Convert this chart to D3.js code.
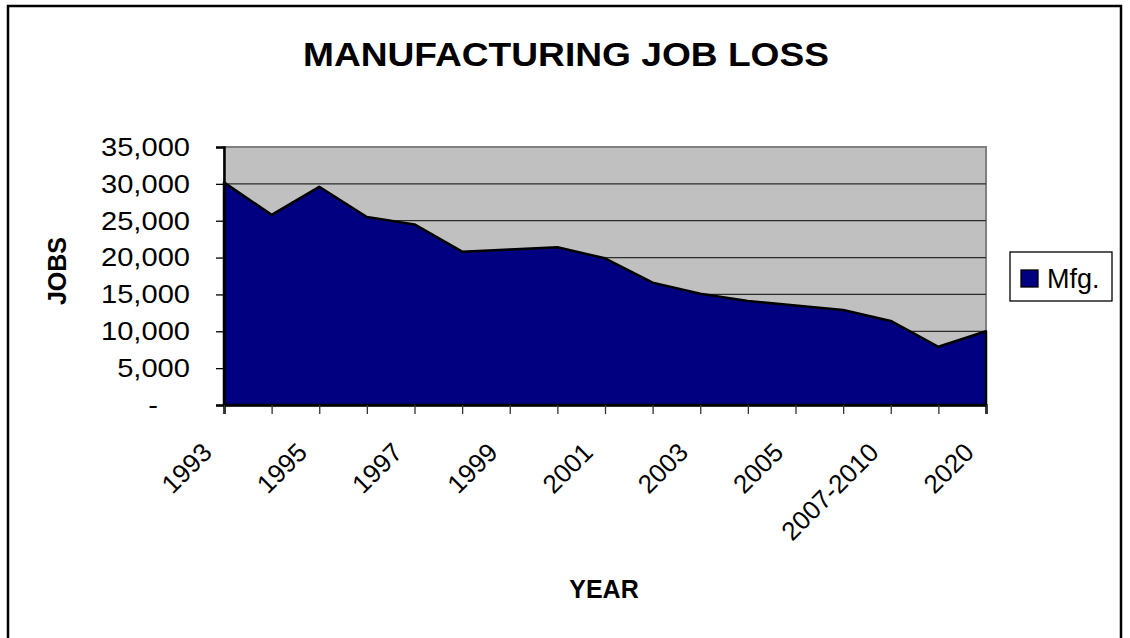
<!DOCTYPE html>
<html lang="en">
<head>
  <meta charset="UTF-8">
  <title>Manufacturing Job Loss</title>
  <script src="https://d3js.org/d3.v7.min.js"></script>
  <style>
    body { margin: 0; padding: 0; background: #fff; }
    svg text { font-family: "Liberation Sans", Arial, sans-serif; fill: #000; }
  </style>
</head>
<body>
  <div id="chart"></div>
  <script>
    const categories = ["1993", "1994", "1995", "1996", "1997", "1998", "1999", "2000", "2001",
      "2002", "2003", "2004", "2005", "2006", "2007-2010", "2011-2019", "2020"];
    const jobs = [30200, 25800, 29600, 25500, 24500, 20800, 21100, 21400, 19900,
      16600, 15100, 14100, 13500, 12900, 11400, 7900, 10000];
    const yTicks = [0, 5000, 10000, 15000, 20000, 25000, 30000, 35000];
    const seriesName = "Mfg.";

    const W = 1130, H = 638;
    const plot = { left: 224, right: 986, top: 147, bottom: 405 };
    const stretch = 1.12; // text in the source is a little wide

    const svg = d3.select("#chart").append("svg")
      .attr("width", W).attr("height", H);

    // outer chart border
    svg.append("rect")
      .attr("x", 8).attr("y", 6).attr("width", 1113).attr("height", 660)
      .attr("fill", "#fff").attr("stroke", "#000").attr("stroke-width", 2.5);

    const x = d3.scalePoint().domain(categories).range([plot.left, plot.right]);
    const y = d3.scaleLinear().domain([0, 35000]).range([plot.bottom, plot.top]);

    // plot background
    svg.append("rect")
      .attr("x", plot.left).attr("y", plot.top)
      .attr("width", plot.right - plot.left).attr("height", plot.bottom - plot.top)
      .attr("fill", "#c0c0c0").attr("stroke", "#808080").attr("stroke-width", 2);

    // gridlines
    svg.append("g").selectAll("line")
      .data(yTicks.filter(d => d > 0 && d < 35000))
      .join("line")
      .attr("x1", plot.left).attr("x2", plot.right)
      .attr("y1", d => y(d)).attr("y2", d => y(d))
      .attr("stroke", "#2b2b2b").attr("stroke-width", 1.3);

    // area
    const area = d3.area()
      .x((d, i) => x(categories[i]))
      .y0(y(0))
      .y1(d => y(d));
    svg.append("path")
      .datum(jobs)
      .attr("d", area)
      .attr("fill", "#000080")
      .attr("stroke", "#000")
      .attr("stroke-width", 2.5)
      .attr("stroke-linejoin", "round");

    // y axis
    const yAxis = svg.append("g")
      .attr("transform", `translate(${plot.left},0)`)
      .call(d3.axisLeft(y).tickValues(yTicks).tickSize(8).tickPadding(0)
        .tickFormat(d => d === 0 ? "-" : d3.format(",")(d)));
    yAxis.select(".domain").attr("stroke", "#000").attr("stroke-width", 2.5);
    yAxis.selectAll(".tick line").attr("stroke", "#000").attr("stroke-width", 1.3);
    yAxis.selectAll(".tick text")
      .attr("x", d => (d === 0 ? -66 : -34) / stretch)
      .attr("transform", `scale(${stretch},1)`)
      .attr("font-size", 26)
      .attr("font-family", "Liberation Sans, Arial, sans-serif");

    // x axis
    const xAxis = svg.append("g")
      .attr("transform", `translate(0,${plot.bottom})`)
      .call(d3.axisBottom(x).tickSize(9).tickFormat((d, i) => i % 2 === 0 ? d : ""));
    xAxis.select(".domain").attr("stroke", "#000").attr("stroke-width", 2.5);
    xAxis.selectAll(".tick line").attr("stroke", "#333").attr("stroke-width", 1.3);
    xAxis.selectAll(".tick text")
      .attr("font-size", 26)
      .attr("font-family", "Liberation Sans, Arial, sans-serif")
      .attr("text-anchor", "end")
      .attr("y", 0).attr("dy", 0)
      .attr("transform", "translate(-11,49) rotate(-45)");

    // title
    svg.append("text")
      .attr("x", 566).attr("y", 66)
      .attr("text-anchor", "middle")
      .attr("font-size", 33).attr("font-weight", "bold")
      .attr("textLength", 526).attr("lengthAdjust", "spacingAndGlyphs")
      .text("MANUFACTURING JOB LOSS");

    // axis titles
    svg.append("text")
      .attr("transform", "translate(66,271) rotate(-90)")
      .attr("text-anchor", "middle")
      .attr("font-size", 25).attr("font-weight", "bold")
      .text("JOBS");
    svg.append("text")
      .attr("x", 604).attr("y", 598)
      .attr("text-anchor", "middle")
      .attr("font-size", 25).attr("font-weight", "bold")
      .text("YEAR");

    // legend
    const lg = svg.append("g").attr("transform", "translate(1010,252)");
    lg.append("rect").attr("width", 102).attr("height", 49)
      .attr("fill", "#fff").attr("stroke", "#000").attr("stroke-width", 1.3);
    lg.append("rect").attr("x", 11).attr("y", 18).attr("width", 17).attr("height", 17)
      .attr("fill", "#000080").attr("stroke", "#000").attr("stroke-width", 1.3);
    lg.append("text").attr("x", 37).attr("y", 36)
      .attr("font-size", 27).text(seriesName);
  </script>
</body>
</html>
